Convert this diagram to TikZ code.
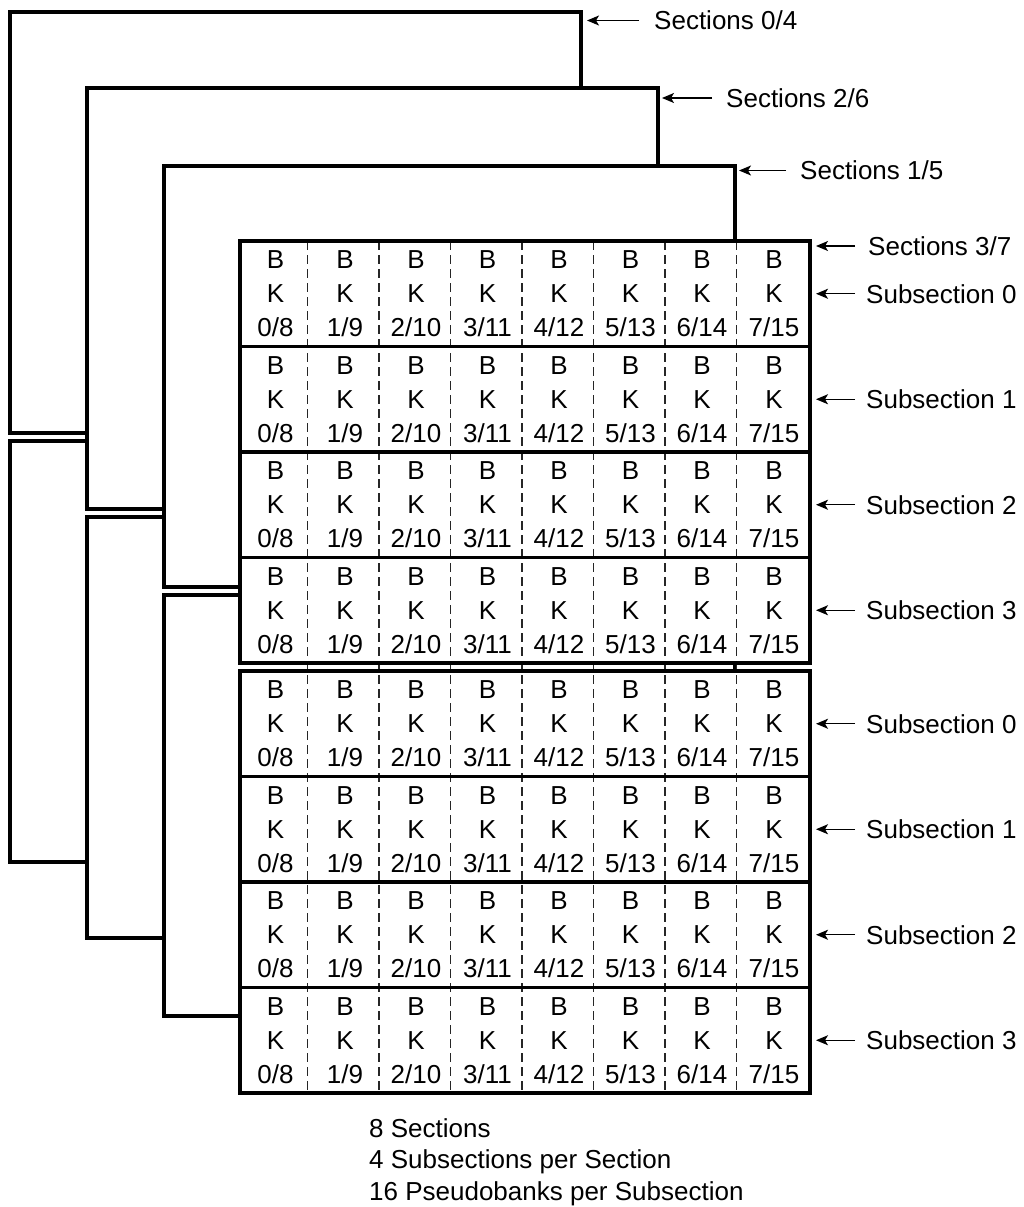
\documentclass[tikz,border=0pt]{standalone}
\usepackage{fontspec}
\setmainfont{Liberation Sans}
\usetikzlibrary{arrows.meta}
\begin{document}
\begin{tikzpicture}[x=1pt,y=-1pt,
  frame/.style={draw=black,fill=white,line width=3.5pt},
  frameline/.style={draw=black,line width=3.5pt},
  divider/.style={draw=black!85,line width=1.2pt,dash pattern=on 9pt off 5pt},
  cell/.style={align=center,inner sep=0pt,font=\fontsize{26}{34}\selectfont},
  lbl/.style={anchor=west,inner sep=0pt,text depth=0pt,font=\fontsize{26}{31}\selectfont},
  note/.style={anchor=base west,inner sep=0pt,font=\fontsize{26}{31}\selectfont},
  arr/.style={-{Stealth[length=12pt,width=10pt,inset=3pt]},line width=1.3pt}
]
\useasboundingbox (0,0) rectangle (1024,1207);

% back sections (each split in two halves)
\foreach \L/\T in {10/12,87/88,164/166}{
  \draw[frame] (\L,\T) rectangle ++(571,421);
  \draw[frame] (\L,{\T+429}) rectangle ++(571,421);
}

% front section: fills
\fill[white] (240,241) rectangle (810,663);
\fill[white] (240,671) rectangle (810,1093);

% column dividers
\foreach \k in {1,...,7}{
  \pgfmathsetmacro\dx{307.5+71.5*(\k-1)}
  \draw[divider] (\dx,241) -- (\dx,1093);
}

% front section outlines and rows
\foreach \h/\ty in {0/241,1/671}{
  \draw[frameline] (240,\ty) rectangle (810,{\ty+422});
  \foreach \r in {1,2,3}{
    \draw[frameline] (240,{\ty+105.5*\r}) -- (810,{\ty+105.5*\r});
  }
  \foreach \r in {0,...,3}{
    \pgfmathsetmacro\cy{\ty+105.5*\r+52.75}
    \foreach \c/\cx in {0/275.5,1/345,2/416,3/487.5,4/559,5/630.5,6/702,7/774}{
      \pgfmathtruncatemacro\m{\c+8}
      \node[cell] (cell-\h-\r-\c) at (\cx,\cy) {B\\K\\\c/\m};
    }
    \coordinate (st-\h-\r) at (816,\cy);
    \node[lbl] (sub-\h-\r) at ([xshift=50pt]st-\h-\r) {Subsection \r};
    \draw[arr] ([xshift=-11pt]sub-\h-\r.west) -- (st-\h-\r);
  }
}

% section labels
\coordinate (t04) at (587,20.5);
\coordinate (t26) at (662,98);
\coordinate (t15) at (739,170.5);
\coordinate (t37) at (816,246);
\node[lbl] (l04) at ([xshift=67pt]t04) {Sections 0/4};
\node[lbl] (l26) at ([xshift=64pt]t26) {Sections 2/6};
\node[lbl] (l15) at ([xshift=61pt]t15) {Sections 1/5};
\node[lbl] (l37) at ([xshift=52pt]t37) {Sections 3/7};
\draw[arr] ([xshift=-15pt]l04.west) -- (t04);
\draw[arr] ([xshift=-14pt]l26.west) -- (t26);
\draw[arr] ([xshift=-14pt]l15.west) -- (t15);
\draw[arr] ([xshift=-13pt]l37.west) -- (t37);

% notes
\node[note] (n1) at (369,1137) {8 Sections};
\node[note] (n2) at (369,1168.5) {4 Subsections per Section};
\node[note] (n3) at (369,1200) {16 Pseudobanks per Subsection};
\end{tikzpicture}
\end{document}
